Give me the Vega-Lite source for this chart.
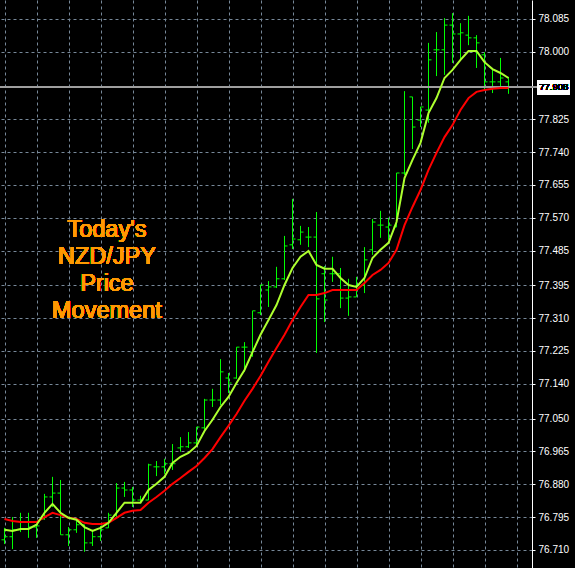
{
  "$schema": "https://vega.github.io/schema/vega-lite/v6.json",
  "width": 532,
  "height": 568,
  "autosize": {"type": "none"},
  "padding": {"left": 0, "top": 0, "right": 43, "bottom": 0},
  "background": "#000000",
  "config": {
    "view": {"stroke": null},
    "axis": {
      "labelColor": "#ffffff",
      "labelFont": "Liberation Sans",
      "labelFontSize": 10,
      "labelOverlap": false,
      "tickColor": "#ffffff",
      "tickSize": 3,
      "domainColor": "#ffffff",
      "gridColor": "#778899",
      "gridDash": [3, 3],
      "gridOpacity": 1,
      "labelPadding": 3
    }
  },
  "data": {
    "values": [
      {"i":0,"o":76.736,"h":76.767,"l":76.725,"c":76.744,"ma1":76.762,"ma2":76.790},
      {"i":1,"o":76.744,"h":76.795,"l":76.712,"c":76.762,"ma1":76.759,"ma2":76.785},
      {"i":2,"o":76.762,"h":76.806,"l":76.756,"c":76.764,"ma1":76.764,"ma2":76.782},
      {"i":3,"o":76.764,"h":76.806,"l":76.741,"c":76.769,"ma1":76.764,"ma2":76.782},
      {"i":4,"o":76.769,"h":76.775,"l":76.741,"c":76.772,"ma1":76.775,"ma2":76.782},
      {"i":5,"o":76.790,"h":76.855,"l":76.788,"c":76.847,"ma1":76.806,"ma2":76.795},
      {"i":6,"o":76.847,"h":76.899,"l":76.821,"c":76.857,"ma1":76.829,"ma2":76.806},
      {"i":7,"o":76.857,"h":76.891,"l":76.749,"c":76.749,"ma1":76.806,"ma2":76.800},
      {"i":8,"o":76.749,"h":76.769,"l":76.720,"c":76.762,"ma1":76.793,"ma2":76.793},
      {"i":9,"o":76.762,"h":76.788,"l":76.754,"c":76.775,"ma1":76.788,"ma2":76.790},
      {"i":10,"o":76.775,"h":76.775,"l":76.705,"c":76.728,"ma1":76.769,"ma2":76.780},
      {"i":11,"o":76.728,"h":76.762,"l":76.720,"c":76.744,"ma1":76.759,"ma2":76.777},
      {"i":12,"o":76.744,"h":76.772,"l":76.733,"c":76.762,"ma1":76.767,"ma2":76.777},
      {"i":13,"o":76.767,"h":76.806,"l":76.767,"c":76.800,"ma1":76.780,"ma2":76.780},
      {"i":14,"o":76.800,"h":76.883,"l":76.793,"c":76.870,"ma1":76.806,"ma2":76.793},
      {"i":15,"o":76.870,"h":76.886,"l":76.847,"c":76.865,"ma1":76.832,"ma2":76.806},
      {"i":16,"o":76.865,"h":76.873,"l":76.821,"c":76.839,"ma1":76.832,"ma2":76.811},
      {"i":17,"o":76.839,"h":76.850,"l":76.832,"c":76.839,"ma1":76.832,"ma2":76.813},
      {"i":18,"o":76.839,"h":76.933,"l":76.839,"c":76.930,"ma1":76.865,"ma2":76.832},
      {"i":19,"o":76.925,"h":76.940,"l":76.901,"c":76.925,"ma1":76.881,"ma2":76.847},
      {"i":20,"o":76.925,"h":76.946,"l":76.907,"c":76.933,"ma1":76.899,"ma2":76.863},
      {"i":21,"o":76.933,"h":76.984,"l":76.917,"c":76.933,"ma1":76.935,"ma2":76.881},
      {"i":22,"o":76.974,"h":77.002,"l":76.964,"c":76.977,"ma1":76.951,"ma2":76.896},
      {"i":23,"o":76.977,"h":77.015,"l":76.974,"c":76.987,"ma1":76.961,"ma2":76.912},
      {"i":24,"o":76.987,"h":77.028,"l":76.982,"c":77.028,"ma1":76.979,"ma2":76.927},
      {"i":25,"o":77.026,"h":77.101,"l":77.021,"c":77.098,"ma1":77.018,"ma2":76.948},
      {"i":26,"o":77.098,"h":77.127,"l":77.080,"c":77.098,"ma1":77.047,"ma2":76.971},
      {"i":27,"o":77.098,"h":77.204,"l":77.085,"c":77.171,"ma1":77.080,"ma2":77.002},
      {"i":28,"o":77.155,"h":77.168,"l":77.116,"c":77.142,"ma1":77.106,"ma2":77.031},
      {"i":29,"o":77.155,"h":77.235,"l":77.153,"c":77.235,"ma1":77.142,"ma2":77.062},
      {"i":30,"o":77.235,"h":77.248,"l":77.171,"c":77.235,"ma1":77.176,"ma2":77.096},
      {"i":31,"o":77.222,"h":77.329,"l":77.210,"c":77.329,"ma1":77.222,"ma2":77.127},
      {"i":32,"o":77.324,"h":77.396,"l":77.318,"c":77.396,"ma1":77.267,"ma2":77.160},
      {"i":33,"o":77.383,"h":77.406,"l":77.339,"c":77.391,"ma1":77.305,"ma2":77.197},
      {"i":34,"o":77.391,"h":77.443,"l":77.388,"c":77.412,"ma1":77.344,"ma2":77.233},
      {"i":35,"o":77.412,"h":77.523,"l":77.409,"c":77.497,"ma1":77.396,"ma2":77.267},
      {"i":36,"o":77.500,"h":77.619,"l":77.489,"c":77.515,"ma1":77.440,"ma2":77.305},
      {"i":37,"o":77.513,"h":77.549,"l":77.500,"c":77.533,"ma1":77.469,"ma2":77.339},
      {"i":38,"o":77.520,"h":77.546,"l":77.494,"c":77.520,"ma1":77.484,"ma2":77.370},
      {"i":39,"o":77.520,"h":77.585,"l":77.220,"c":77.360,"ma1":77.448,"ma2":77.370},
      {"i":40,"o":77.425,"h":77.445,"l":77.300,"c":77.357,"ma1":77.438,"ma2":77.375},
      {"i":41,"o":77.425,"h":77.469,"l":77.404,"c":77.425,"ma1":77.438,"ma2":77.383},
      {"i":42,"o":77.425,"h":77.440,"l":77.336,"c":77.362,"ma1":77.414,"ma2":77.383},
      {"i":43,"o":77.362,"h":77.412,"l":77.316,"c":77.365,"ma1":77.396,"ma2":77.383},
      {"i":44,"o":77.365,"h":77.417,"l":77.365,"c":77.396,"ma1":77.391,"ma2":77.383},
      {"i":45,"o":77.396,"h":77.494,"l":77.375,"c":77.461,"ma1":77.414,"ma2":77.401},
      {"i":46,"o":77.487,"h":77.567,"l":77.474,"c":77.559,"ma1":77.466,"ma2":77.422},
      {"i":47,"o":77.551,"h":77.588,"l":77.518,"c":77.551,"ma1":77.487,"ma2":77.435},
      {"i":48,"o":77.546,"h":77.570,"l":77.513,"c":77.551,"ma1":77.505,"ma2":77.453},
      {"i":49,"o":77.546,"h":77.686,"l":77.546,"c":77.686,"ma1":77.559,"ma2":77.487},
      {"i":50,"o":77.686,"h":77.898,"l":77.681,"c":77.686,"ma1":77.673,"ma2":77.551},
      {"i":51,"o":77.883,"h":77.883,"l":77.748,"c":77.805,"ma1":77.720,"ma2":77.598},
      {"i":52,"o":77.823,"h":77.857,"l":77.805,"c":77.857,"ma1":77.764,"ma2":77.642},
      {"i":53,"o":77.849,"h":78.023,"l":77.816,"c":77.979,"ma1":77.841,"ma2":77.694},
      {"i":54,"o":78.005,"h":78.051,"l":77.937,"c":78.005,"ma1":77.880,"ma2":77.738},
      {"i":55,"o":78.005,"h":78.087,"l":77.940,"c":78.069,"ma1":77.932,"ma2":77.779},
      {"i":56,"o":78.069,"h":78.100,"l":77.971,"c":78.046,"ma1":77.953,"ma2":77.810},
      {"i":57,"o":78.046,"h":78.074,"l":77.979,"c":78.049,"ma1":77.979,"ma2":77.849},
      {"i":58,"o":78.043,"h":78.093,"l":78.017,"c":78.036,"ma1":78.002,"ma2":77.880},
      {"i":59,"o":78.036,"h":78.043,"l":77.958,"c":78.023,"ma1":78.002,"ma2":77.896},
      {"i":60,"o":77.992,"h":77.999,"l":77.901,"c":77.922,"ma1":77.973,"ma2":77.901},
      {"i":61,"o":77.922,"h":77.958,"l":77.893,"c":77.922,"ma1":77.955,"ma2":77.904},
      {"i":62,"o":77.922,"h":77.984,"l":77.906,"c":77.932,"ma1":77.945,"ma2":77.906},
      {"i":63,"o":77.922,"h":77.935,"l":77.891,"c":77.908,"ma1":77.932,"ma2":77.906}
    ]
  },
  "encoding": {
    "x": {
      "field": "i",
      "type": "quantitative",
      "scale": {"domain": [-0.5625, 65.9375], "nice": false, "zero": false},
      "axis": {
        "values": [0, 4, 8, 12, 16, 20, 24, 28, 32, 36, 40, 44, 48, 52, 56, 60, 64],
        "tickCount": 30,
        "labels": false,
        "ticks": false,
        "domain": false,
        "grid": true,
        "title": null
      }
    }
  },
  "layer": [
    {
      "mark": {"type": "rule", "color": "#00ff00", "strokeWidth": 1},
      "encoding": {
        "y": {
          "field": "l",
          "type": "quantitative",
          "scale": {"domain": [76.663, 78.134], "nice": false, "zero": false},
          "axis": {
            "orient": "right",
            "title": null,
            "grid": true,
            "tickCount": 30,
            "labelOverlap": false,
            "labelBound": false,
            "values": [78.085, 78.0, 77.825, 77.74, 77.655, 77.57, 77.485, 77.395, 77.31, 77.225, 77.14, 77.05, 76.965, 76.88, 76.795, 76.71],
            "format": ".3f"
          }
        },
        "y2": {"field": "h"}
      }
    },
    {
      "mark": {"type": "rule", "color": "#00ff00", "strokeWidth": 1, "xOffset": -3},
      "encoding": {
        "x2": {"field": "i"},
        "y": {"field": "o", "type": "quantitative", "axis": {"title": null}}
      }
    },
    {
      "mark": {"type": "rule", "color": "#00ff00", "strokeWidth": 1, "x2Offset": 3},
      "encoding": {
        "x2": {"field": "i"},
        "y": {"field": "c", "type": "quantitative", "axis": {"title": null}}
      }
    },
    {
      "mark": {"type": "rule", "color": "#a0a0a0", "strokeWidth": 1},
      "encoding": {"x": {"datum": -0.5625}, "x2": {"datum": 66.6}, "y": {"datum": 77.908}}
    },
    {
      "mark": {"type": "line", "color": "#ff0000", "strokeWidth": 2},
      "encoding": {"y": {"field": "ma2", "type": "quantitative", "axis": {"title": null}}}
    },
    {
      "mark": {"type": "line", "color": "#adff2f", "strokeWidth": 2},
      "encoding": {"y": {"field": "ma1", "type": "quantitative", "axis": {"title": null}}}
    },
    {
      "mark": {"type": "rect", "color": "#ffffff"},
      "encoding": {
        "x": {"datum": 66.6},
        "x2": {"datum": 70.6},
        "y": {"datum": 77.927},
        "y2": {"datum": 77.889}
      }
    },
    {
      "mark": {"type": "text", "color": "#000000", "font": "Liberation Sans", "fontSize": 9.5, "align": "left", "baseline": "middle"},
      "encoding": {
        "x": {"datum": 66.85},
        "y": {"datum": 77.908},
        "text": {"value": "77.908"}
      }
    },
    {
      "mark": {"type": "text", "color": "#ff9900", "font": "Liberation Sans", "fontSize": 23.5, "fontWeight": "normal", "align": "center", "baseline": "middle", "lineHeight": 27},
      "encoding": {
        "x": {"datum": 12.8},
        "y": {"datum": 77.538},
        "text": {"value": ["Today's", "NZD/JPY", "Price", "Movement"]}
      }
    }
  ]
}
